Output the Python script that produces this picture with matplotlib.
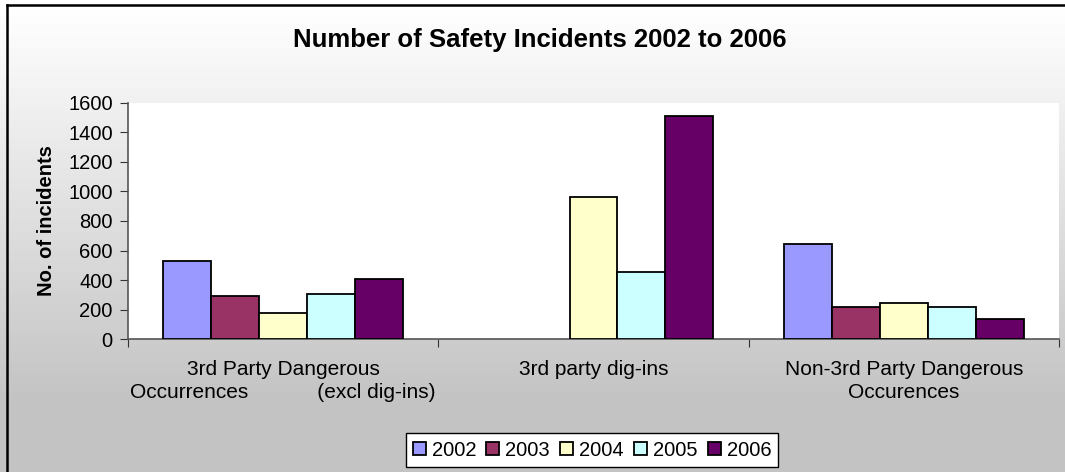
import numpy as np
import matplotlib
matplotlib.use("Agg")
import matplotlib.pyplot as plt
from matplotlib.lines import Line2D

categories = ["3rd Party Dangerous\nOccurrences            (excl dig-ins)",
              "3rd party dig-ins",
              "Non-3rd Party Dangerous\nOccurences"]
years = ["2002", "2003", "2004", "2005", "2006"]
v2002 = [529, 0, 644]
v2003 = [295, 0, 218]
v2004 = [180, 964, 243]
v2005 = [306, 453, 218]
v2006 = [410, 1508, 135]
series = [v2002, v2003, v2004, v2005, v2006]
colors = ["#9999FF", "#993366", "#FFFFCC", "#CCFFFF", "#660066"]
yticks = [0, 200, 400, 600, 800, 1000, 1200, 1400, 1600]

plt.rcParams['font.family'] = ['Liberation Sans', 'DejaVu Sans']

W, H = 1065, 472
fig = plt.figure(figsize=(W / 100, H / 100), dpi=100)
fig.patch.set_facecolor('#C3C3C3')

# gradient background of the chart area, drawn as thin horizontal bands
bg = fig.add_axes([0, 0, 1, 1], zorder=-10)
bg.set_xlim(0, W)
bg.set_ylim(H, 0)
bg.axis('off')
for y0 in range(0, H, 2):
    g = min(max(255 - 60 * (y0 - 5) / 395.0, 195), 255) / 255.0
    bg.axhspan(y0, y0 + 2, color=(g, g, g), lw=0)
# chart frame: only left and top edges fall inside the picture
bg.add_line(Line2D([7, 7], [5, H + 20], color='black', lw=1.8))
bg.add_line(Line2D([7, W + 20], [5, 5], color='black', lw=1.8))

ax = fig.add_axes([128 / W, 1 - 339.3 / H, (1059 - 128) / W, (339.3 - 102.7) / H])
ax.set_facecolor('white')

n = len(series)
bw = 0.772 / n
x = np.arange(len(categories))
for i, (vals, c, yr) in enumerate(zip(series, colors, years)):
    pos = x + (i - (n - 1) / 2) * bw
    v = np.array(vals, dtype=float)
    keep = v > 0
    ax.bar(pos[keep], v[keep], width=bw, color=c, edgecolor='black', linewidth=1.3,
           label=yr, zorder=3)

ax.set_xlim(-0.5, len(categories) - 0.5)
ax.set_ylim(0, 1600)
ax.set_yticks(yticks)
ax.set_yticklabels([str(t) for t in yticks], fontsize=14.5)
ax.set_xticks(np.arange(len(categories) + 1) - 0.5)
ax.set_xticklabels([])
ax.set_xticks(x, minor=True)
ax.set_xticklabels(categories, minor=True, fontsize=15, linespacing=1.25)
ax.tick_params(axis='x', which='minor', length=0, pad=15)
ax.tick_params(axis='x', which='major', length=6, color='#333333')
ax.tick_params(axis='y', length=6, color='#333333', pad=5)
for s in ['top', 'right']:
    ax.spines[s].set_visible(False)
for s in ['left', 'bottom']:
    ax.spines[s].set_color('#555555')
    ax.spines[s].set_linewidth(1.2)

ax.set_ylabel("No. of incidents", fontsize=14.5, fontweight='bold', labelpad=9)
fig.text(540 / W, 1 - 40 / H, "Number of Safety Incidents 2002 to 2006",
         ha='center', va='center', fontsize=18.5, fontweight='bold')

leg = fig.legend(loc='center', bbox_to_anchor=(592 / W, 1 - 450 / H), ncol=5,
                 fontsize=14.5, frameon=True, fancybox=False, handlelength=0.65,
                 handleheight=0.65, handletextpad=0.3, columnspacing=0.5,
                 borderpad=0.35, borderaxespad=0)
leg.get_frame().set_edgecolor('black')
leg.get_frame().set_linewidth(1.0)
leg.get_frame().set_facecolor('white')
leg.get_frame().set_alpha(1)

fig.savefig("out.png", dpi=100)
